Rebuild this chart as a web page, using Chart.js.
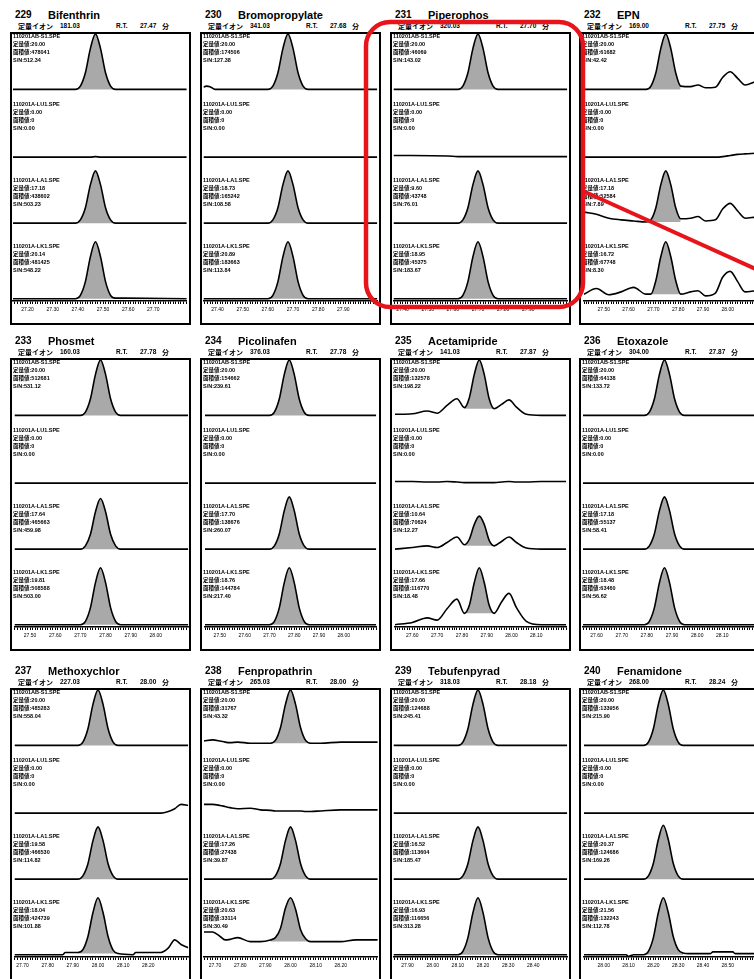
<!DOCTYPE html>
<html><head><meta charset="utf-8">
<script src="https://cdn.jsdelivr.net/npm/chart.js@4.4.1/dist/chart.umd.min.js"></script>
<style>
html,body{margin:0;padding:0;background:#fff;width:754px;height:979px;overflow:hidden;}
body{position:relative;font-family:"Liberation Sans","Noto Sans CJK JP",Arial,sans-serif;color:#000;}
.box{position:absolute;border:2px solid #000;box-sizing:border-box;overflow:hidden;background:#fff;}
.box canvas{position:absolute;left:0;top:0;}
.t{position:absolute;white-space:nowrap;line-height:1;font-weight:bold;}
.blk{position:absolute;font-size:5.5px;line-height:8px;font-weight:bold;white-space:nowrap;}
#ann{position:absolute;left:0;top:0;z-index:10;}
</style></head><body>
<script>
// ---- panel texts ----
const compoundNo = ['229','230','231','232','233','234','235','236','237','238','239','240'];
const compoundName = ['Bifenthrin','Bromopropylate','Piperophos','EPN','Phosmet','Picolinafen','Acetamipride','Etoxazole','Methoxychlor','Fenpropathrin','Tebufenpyrad','Fenamidone'];
const quantIon = ['181.03','341.03','320.03','169.00','160.03','376.03','141.03','304.00','227.03','265.03','318.03','268.00'];
const retTime = ['27.47','27.68','27.70','27.75','27.78','27.78','27.87','27.87','28.00','28.00','28.18','28.24'];
const sampleFiles = ['110201AB-S1.SPE','110201A-LU1.SPE','110201A-LA1.SPE','110201A-LK1.SPE'];
const quantS1 = ['20.00','20.00','20.00','20.00','20.00','20.00','20.00','20.00','20.00','20.00','20.00','20.00'];
const quantLU = ['0.00','0.00','0.00','0.00','0.00','0.00','0.00','0.00','0.00','0.00','0.00','0.00'];
const quantLA = ['17.18','18.73','9.60','17.18','17.64','17.70','10.64','17.18','19.58','17.26','16.52','20.37'];
const quantLK = ['20.14','20.89','18.95','16.72','19.81','18.76','17.66','18.48','18.04','20.63','16.93','21.56'];
const areaS1 = ['478041','174506','46069','61682','512681','154662','132578','64138','485283','31767','124688','133956'];
const areaLU = ['0','0','0','0','0','0','0','0','0','0','0','0'];
const areaLA = ['438602','165242','43748','52584','465663','138676','70624','55137','466530','27438','113604','124686'];
const areaLK = ['481425','183663','45375','67748','508588','144784','116770','63460','424739','33114','116656','132243'];
const snS1 = ['512.34','127.38','143.02','42.42','531.12','239.61','198.22','133.72','558.04','43.32','245.41','215.90'];
const snLU = ['0.00','0.00','0.00','0.00','0.00','0.00','0.00','0.00','0.00','0.00','0.00','0.00'];
const snLA = ['503.23','108.58','76.01','7.89','459.98','260.07','12.27','58.41','114.82','39.87','185.47','169.26'];
const snLK = ['548.22','113.84','183.67','8.30','503.00','217.40','18.48','56.62','101.88','30.49','313.28','112.78'];

// ---- chromatogram data (retention time in min, relative intensity) ----
const times229 = [27.142,27.35,27.39,27.41,27.43,27.45,27.47,27.49,27.51,27.53,27.55,27.59,27.833];
const s229 = [0,0,0,6,30,74,100,74,30,6,0,0,0];
const lu229 = [0,0,0,0,0,0,1,0,0,0,0,0,0];
const la229 = [0,0,0,6,28,70,95,70,28,6,0,0,0];
const lk229 = [0,0,0,6,30,74,100,74,30,6,1,1,0];

const times230 = [27.344,27.355,27.37,27.39,27.56,27.60,27.62,27.64,27.66,27.68,27.70,27.72,27.74,27.76,27.80,28.035];
const s230 = [4,6,5,0,0,0,6,30,74,100,74,30,6,0,0,0];
const lu230 = [0,0,0,0,0,0,0,0,0,0,0,0,0,0,0,0];
const la230 = [0,0,0,0,0,0,6,28,70,95,70,28,6,0,0,0];
const lk230 = [0,0,0,0,0,0,6,30,74,100,74,30,6,0,0,0];

const times231 = [27.364,27.58,27.62,27.64,27.66,27.68,27.70,27.72,27.74,27.76,27.78,27.82,28.055];
const s231 = [0,0,0,6,30,74,100,74,30,6,0,0,0];
const lu231 = [3,2,1,1,1,1,1,1,1,1,1,1,1];
const la231 = [0,0,0,6,28,70,95,70,28,6,0,0,0];
const lk231 = [0,0,0,6,30,74,100,74,30,6,0,0,0];

const times232 = [27.42,27.47,27.52,27.57,27.62,27.67,27.69,27.71,27.73,27.75,27.77,27.79,27.81,27.85,27.88,27.91,27.95,27.98,28.01,28.04,28.07,28.111];
const s232 = [0,0,0,0,0,0,6,30,74,100,74,30,6,5,8,3,4,22,32,20,8,14];
const lu232 = [0,0,0,0,0,0,0,0,0,0,0,0,0,0,0,0,0,1,3,5,6,7];
const la232 = [20,16,9,6,4,2,6,28,70,95,70,28,8,9,12,4,6,26,36,22,9,11];
const lk232 = [8,18,7,12,20,8,8,32,74,100,74,32,8,12,14,5,10,38,48,30,12,14];

const times233 = [27.438,27.66,27.70,27.72,27.74,27.76,27.78,27.80,27.82,27.84,27.86,27.90,28.129];
const s233 = [0,0,0,6,30,74,100,74,30,6,0,0,0];
const lu233 = [0,0,0,0,0,0,0,0,0,0,0,0,0];
const la233 = [0,0,0,6,27,68,92,68,27,6,0,0,0];
const lk233 = [0,0,0,6,30,74,100,74,30,6,0,0,0];

const times234 = [27.44,27.66,27.70,27.72,27.74,27.76,27.78,27.80,27.82,27.84,27.86,27.90,28.131];
const s234 = [0,0,0,6,30,74,100,74,30,6,0,0,0];
const lu234 = [0,0,0,0,0,0,0,0,0,0,0,0,0];
const la234 = [0,0,0,6,28,70,95,70,28,6,0,0,0];
const lk234 = [0,0,0,6,30,74,100,74,30,6,0,0,0];

const times235 = [27.53,27.60,27.66,27.70,27.74,27.78,27.81,27.83,27.85,27.87,27.89,27.91,27.93,27.96,27.99,28.02,28.06,28.12,28.221];
const s235 = [2,3,8,4,18,30,14,32,74,100,74,30,12,20,28,15,2,0,0];
const lu235 = [3,3,2,2,3,2,1,1,1,1,1,1,1,2,3,2,2,3,3];
const la235 = [0,3,6,3,12,22,8,18,45,60,45,16,6,14,22,12,2,0,0];
const lk235 = [0,4,12,8,28,45,20,34,74,100,74,34,20,40,55,30,6,0,0];

const times236 = [27.546,27.75,27.79,27.81,27.83,27.85,27.87,27.89,27.91,27.93,27.95,27.99,28.237];
const s236 = [0,0,0,6,30,74,100,74,30,6,0,0,0];
const lu236 = [0,0,0,0,0,0,0,0,0,0,0,0,0];
const la236 = [0,0,0,6,28,70,95,70,28,6,0,0,0];
const lk236 = [0,0,0,6,30,74,100,74,30,6,0,0,0];

const times237 = [27.668,27.86,27.87,27.92,27.94,27.96,27.98,28.00,28.02,28.04,28.06,28.08,28.14,28.15,28.25,28.28,28.305,28.33,28.359];
const s237 = [0,0,0,0,6,30,74,100,74,30,6,0,0,0,0,0,0,0,0];
const lu237 = [0,0,0,0,0,0,0,0,0,0,0,0,0,0,0,3,8,16,14];
const la237 = [0,0,0,0,6,28,70,95,70,28,6,0,0,0,0,0,0,0,0];
const lk237 = [0,0,4,4,9,32,74,100,74,32,8,2,0,4,4,12,26,18,12];

const times238 = [27.656,27.69,27.72,27.74,27.76,27.79,27.84,27.88,27.92,27.94,27.96,27.98,28.00,28.02,28.04,28.06,28.08,28.12,28.20,28.26,28.347];
const s238 = [8,10,8,6,5,6,4,4,4,9,32,74,100,74,32,9,4,4,6,6,6];
const lu238 = [16,16,14,12,10,8,9,6,5,4,4,4,4,4,4,3,3,4,6,6,6];
const la238 = [0,0,0,0,0,0,0,0,0,6,28,70,95,70,28,6,0,0,0,0,0];
const lk238 = [40,40,32,26,27,30,23,23,26,30,46,82,100,80,44,28,23,23,23,26,26];

const times239 = [27.844,28.06,28.10,28.12,28.14,28.16,28.18,28.20,28.22,28.24,28.26,28.30,28.535];
const s239 = [0,0,0,6,30,74,100,74,30,6,0,0,0];
const lu239 = [0,0,0,0,0,0,0,0,0,0,0,0,0];
const la239 = [0,0,0,6,28,70,95,70,28,6,0,0,0];
const lk239 = [0,0,0,6,30,74,100,74,30,6,0,0,0];

const times240 = [27.92,28.09,28.10,28.12,28.16,28.18,28.20,28.22,28.24,28.26,28.28,28.30,28.32,28.34,28.43,28.44,28.52,28.53,28.611];
const s240 = [0,0,0,0,0,6,30,74,100,74,30,6,0,0,0,0,0,0,0];
const lu240 = [0,0,0,0,0,0,0,0,0,0,0,0,0,0,0,0,0,0,0];
const la240 = [0,0,0,0,0,6,29,72,98,72,29,6,0,0,0,0,0,0,0];
const lk240 = [0,0,-3,0,0,6,30,74,100,74,32,9,3,2,2,5,5,2,2];

// ---- tables built from the arrays above ----
const panelTimes = [times229,times230,times231,times232,times233,times234,times235,times236,times237,times238,times239,times240];
const panelTraces = [
  [s229,lu229,la229,lk229],[s230,lu230,la230,lk230],[s231,lu231,la231,lk231],[s232,lu232,la232,lk232],
  [s233,lu233,la233,lk233],[s234,lu234,la234,lk234],[s235,lu235,la235,lk235],[s236,lu236,la236,lk236],
  [s237,lu237,la237,lk237],[s238,lu238,la238,lk238],[s239,lu239,la239,lk239],[s240,lu240,la240,lk240]
];
const quantAll = [quantS1,quantLU,quantLA,quantLK];
const areaAll = [areaS1,areaLU,areaLA,areaLK];
const snAll = [snS1,snLU,snLA,snLK];

// ---- layout ----
const colLeft = [10,200,390,579];
const rowTop = [32,358,688];
const BOX_W = 181, BOX_H = 293;
const blockTop = [0,68,144,210];
const yRanges = [[-12,100,63],[-9,111,67],[-9,111,67],[-4,124,74]];

function addText(txt, left, cy, size) {
  const d = document.createElement('div');
  d.className = 't';
  d.textContent = txt;
  d.style.left = left + 'px';
  d.style.top = (cy - size / 2) + 'px';
  d.style.fontSize = size + 'px';
  document.body.appendChild(d);
}

for (let p = 0; p < 12; p++) {
  const L = colLeft[p % 4], T = rowTop[Math.floor(p / 4)];
  addText(compoundNo[p], L + 5, T - 17, 10);
  addText(compoundName[p], L + 38, T - 17, 11);
  addText('定量イオン', L + 8, T - 6, 7);
  addText(quantIon[p], L + 50, T - 6, 6.5);
  addText('R.T.', L + 106, T - 6, 6.5);
  addText(retTime[p], L + 130, T - 6, 6.5);
  addText('分', L + 152, T - 6, 7);

  const box = document.createElement('div');
  box.className = 'box';
  box.style.left = L + 'px'; box.style.top = T + 'px';
  box.style.width = BOX_W + 'px'; box.style.height = BOX_H + 'px';
  const cv = document.createElement('canvas');
  cv.width = BOX_W - 4; cv.height = BOX_H - 4;
  cv.style.width = (BOX_W - 4) + 'px'; cv.style.height = (BOX_H - 4) + 'px';
  box.appendChild(cv);
  document.body.appendChild(box);

  for (let i = 0; i < 4; i++) {
    const b = document.createElement('div');
    b.className = 'blk';
    b.style.left = (L + 3) + 'px';
    b.style.top = (T + blockTop[i]) + 'px';
    b.innerHTML = sampleFiles[i] + '<br>定量値:' + quantAll[i][p] + '<br>面積値:' + areaAll[i][p] + '<br>S/N:' + snAll[i][p];
    document.body.appendChild(b);
  }

  const times = panelTimes[p];
  const c = parseFloat(retTime[p]);
  const datasets = [];
  panelTraces[p].forEach((tr, i) => {
    const pts = times.map((x, k) => ({x: x, y: tr[k]}));
    if (areaAll[i][p] !== '0') {
      const sub = pts.filter(q => Math.abs(q.x - c) <= 0.0805);
      const base = Math.min(sub[0].y, sub[sub.length - 1].y);
      datasets.push({data: sub, yAxisID: 'y' + i, borderWidth: 0, pointRadius: 0,
        backgroundColor: '#a9a9a9', fill: {value: base}, cubicInterpolationMode: 'monotone', order: 2});
    }
    datasets.push({data: pts, yAxisID: 'y' + i, borderColor: '#000', borderWidth: 1.6, pointRadius: 0,
      fill: false, cubicInterpolationMode: 'monotone', order: 1});
  });

  const scales = {
    x: {
      type: 'linear', position: 'bottom', min: times[0], max: times[times.length - 1],
      grid: {display: true, drawOnChartArea: false, drawTicks: true, tickLength: 3, color: '#000', lineWidth: 1},
      border: {display: true, color: '#000', width: 1.5},
      ticks: {
        stepSize: 0.01, autoSkip: false, maxRotation: 0, minRotation: 0, includeBounds: false,
        padding: 3, color: '#000', font: {size: 5, family: 'Liberation Sans'},
        callback: function (v) {
          const r = Math.round(v * 100);
          if (r % 10 !== 0) return '';
          if (v > this.max - 0.065 || v < this.min + 0.02) return '';
          return (r / 100).toFixed(2);
        }
      }
    }
  };
  yRanges.forEach((r, i) => {
    scales['y' + i] = {type: 'linear', position: 'left', stack: 'traces', stackWeight: r[2], weight: 4 - i,
      min: r[0], max: r[1], display: false};
  });

  new Chart(cv, {
    type: 'line',
    data: {datasets: datasets},
    options: {
      responsive: false, animation: false, events: [],
      layout: {padding: {top: 0, bottom: 7, left: 0, right: 0}},
      plugins: {legend: {display: false}, tooltip: {enabled: false}},
      scales: scales
    }
  });
}
</script>
<svg id="ann" width="754" height="979">
  <rect x="366" y="22" width="217" height="285" rx="24" ry="24" fill="none" stroke="#e8141b" stroke-width="4.5"/>
  <line x1="583" y1="191" x2="758" y2="270" stroke="#e8141b" stroke-width="4"/>
</svg>
</body></html>
